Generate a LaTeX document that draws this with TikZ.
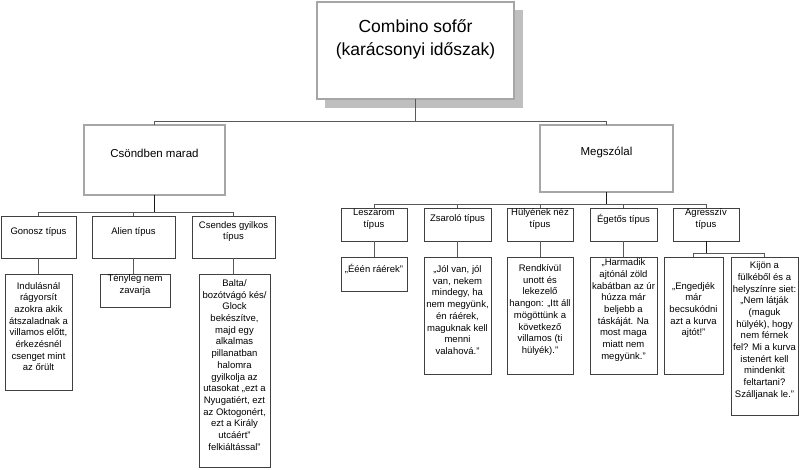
\documentclass[tikz,border=0pt]{standalone}
\usepackage{fontspec}
\setmainfont{Liberation Sans}
\begin{document}
\begin{tikzpicture}[x=1pt,y=-1pt,
 lbox/.style={draw=black!75, line width=0.7pt, fill=white, inner sep=0pt, outer sep=0pt},
 bigbox/.style={draw=black!70, line width=0.6pt, double=black!35, double distance=1.3pt, fill=white, inner sep=0pt, outer sep=0pt},
 txt/.style={align=center, inner sep=0pt, font=\fontsize{9.5}{11.7}\selectfont, text=black},
 bigtxt/.style={align=center, inner sep=0pt, font=\fontsize{11.5}{14}\selectfont, text=black},
 toptxt/.style={align=center, inner sep=0pt, font=\fontsize{17.5}{23}\selectfont, text=black},
 conn/.style={draw=black!65, line width=0.8pt},
 stem/.style={draw=black!90, line width=1pt},
 shadowbox/.style={fill=black!25, draw=none}]
\newcommand\mybox[8]{%
\node[#1, minimum width={(#5-#3)*1pt}, minimum height={(#6-#4)*1pt}] (#2) at ({(#3+#5)/2},{(#4+#6)/2}) {};
\node[#8] (#2-t) at ([yshift=5.5pt]#2.center) {#7};}
\useasboundingbox (0,0) rectangle (800,470);
\fill[white] (0,0) rectangle (800,470);
% top
\fill[shadowbox] (325,10) rectangle (523,108);
\node[bigbox, minimum width=197pt, minimum height=97pt] (top) at (415.5,50.5) {};
\node[toptxt] (top-t) at ([yshift=11pt]top.center) {Combino sofőr\\(karácsonyi időszak)};
% second level
\node[bigbox, minimum width=141pt, minimum height=70pt] (csond) at (154.5,160) {};
\node[bigtxt] (csond-t) at ([yshift=6.5pt]csond.center) {Csöndben marad};
\node[bigbox, minimum width=133pt, minimum height=67pt] (megs) at (606.5,158.5) {};
\node[bigtxt] (megs-t) at ([yshift=6.5pt]megs.center) {Megszólal};
% left level 2
\mybox{lbox}{gon}{1}{216}{76}{258}{Gonosz típus}{txt}
\mybox{lbox}{ali}{92}{216}{175}{258}{Alien típus}{txt}
\mybox{lbox}{cse}{192}{216}{275}{258}{Csendes gyilkos\\típus}{txt}
% left level 3
\mybox{lbox}{ind}{5}{274}{72}{390}{Indulásnál\\rágyorsít\\azokra akik\\átszaladnak a\\villamos előtt,\\érkezésnél\\csenget mint\\az őrült}{txt}
\mybox{lbox}{ten}{100}{274}{170}{307}{Tényleg nem\\zavarja}{txt}
\mybox{lbox}{bal}{199}{274}{270}{467}{Balta/\\bozótvágó kés/\\Glock\\bekészítve,\\majd egy\\alkalmas\\pillanatban\\halomra\\gyilkolja az\\utasokat „ezt a\\Nyugatiért, ezt\\az Oktogonért,\\ezt a Király\\utcáért”\\felkiáltással”}{txt}
% right level 2
\mybox{lbox}{les}{341}{208}{407}{241}{Leszarom\\típus}{txt}
\mybox{lbox}{zsa}{424}{208}{491}{241}{Zsaroló típus}{txt}
\mybox{lbox}{hul}{507}{208}{573}{241}{Hülyének néz\\típus}{txt}
\mybox{lbox}{ege}{590}{208}{657}{241}{Égetős típus}{txt}
\mybox{lbox}{agr}{673}{208}{739}{241}{Agresszív\\típus}{txt}
% right level 3
\mybox{lbox}{eee}{341}{257}{407}{291}{„Ééén ráérek”}{txt}
\mybox{lbox}{jol}{424}{257}{491}{374}{„Jól van, jól\\van, nekem\\mindegy, ha\\nem megyünk,\\én ráérek,\\maguknak kell\\menni\\valahová.”}{txt}
\mybox{lbox}{ren}{507}{257}{573}{374}{Rendkívül\\unott és\\lekezelő\\hangon: „Itt áll\\mögöttünk a\\következő\\villamos (ti\\hülyék).”}{txt}
\mybox{lbox}{har}{590}{257}{657}{374}{„Harmadik\\ajtónál zöld\\kabátban az úr\\húzza már\\beljebb a\\táskáját. Na\\most maga\\miatt nem\\megyünk.”}{txt}
\mybox{lbox}{eng}{664}{257}{723}{374}{„Engedjék\\már\\becsukódni\\azt a kurva\\ajtót!”}{txt}
\mybox{lbox}{kij}{731}{257}{798}{415}{Kijön a\\fülkéből és a\\helyszínre siet:\\„Nem látják\\(maguk\\hülyék), hogy\\nem férnek\\fel? Mi a kurva\\istenért kell\\mindenkit\\feltartani?\\Szálljanak le.”}{txt}
% connectors
\coordinate (b1) at (415.5,121);
\draw[conn] (top.south) -- (b1);
\draw[conn] (csond.north) |- (b1);
\draw[conn] (megs.north) |- (b1);
\coordinate (b2) at (154.5,212);
\draw[stem] (csond.south) -- (b2);
\draw[conn] (gon.north) |- (b2);
\draw[conn] (ali.north) |- (b2);
\draw[conn] (cse.north) |- (b2);
\draw[conn] (gon.south) -- (gon.south |- ind.north);
\draw[conn] (ali.south) -- (ali.south |- ten.north);
\draw[conn] (cse.south) -- (cse.south |- bal.north);
\coordinate (b3) at (606.5,204);
\draw[stem] (megs.south) -- (b3);
\draw[conn] (les.north) |- (b3);
\draw[conn] (zsa.north) |- (b3);
\draw[conn] (hul.north) |- (b3);
\draw[conn] (ege.north) |- (b3);
\draw[conn] (agr.north) |- (b3);
\draw[conn] (les.south) -- (les.south |- eee.north);
\draw[conn] (zsa.south) -- (zsa.south |- jol.north);
\draw[conn] (hul.south) -- (hul.south |- ren.north);
\draw[conn] (ege.south) -- (ege.south |- har.north);
\coordinate (b4) at (706,253);
\draw[stem] (agr.south) -- (b4);
\draw[conn] (eng.north) |- (b4);
\draw[conn] (kij.north) |- (b4);
\end{tikzpicture}
\end{document}
